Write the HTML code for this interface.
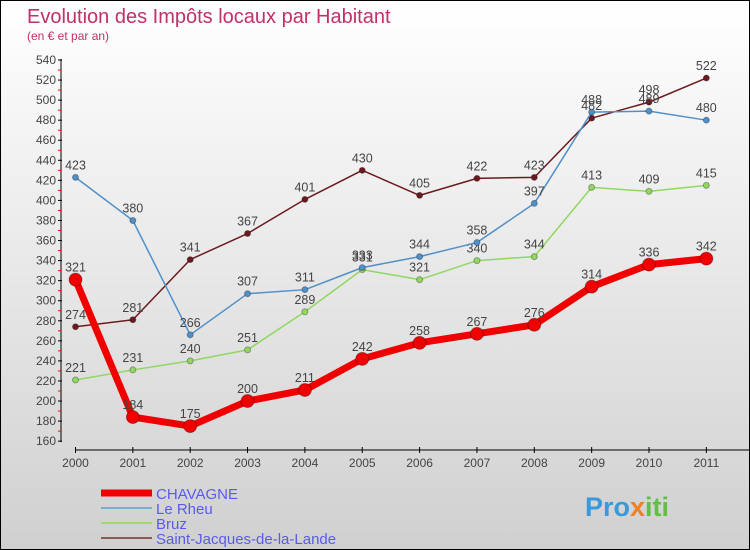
<!DOCTYPE html>
<html><head><meta charset="utf-8"><style>
body{margin:0}
#c{width:748px;height:548px;border:1px solid #000;background:linear-gradient(#fff,#d0d0d0);position:relative;font-family:"Liberation Sans",sans-serif}
</style></head><body>
<div id="c">
<svg id="s" width="748" height="548" style="position:absolute;left:0;top:0">
<text x="26" y="22" font-size="20" fill="#c0306a">Evolution des Impôts locaux par Habitant</text>
<text x="26" y="39" font-size="12" fill="#c0306a">(en € et par an)</text>
<g id="axes"></g><g id="series"></g><g id="legend"></g>
<text x="584" y="515" font-size="27" font-weight="bold" fill="#3a9ad9">Pro<tspan fill="#f08020">x</tspan><tspan fill="#60c040">iti</tspan></text>
</svg>
</div>
<script>
const years=[2000,2001,2002,2003,2004,2005,2006,2007,2008,2009,2010,2011];
const chavagne=[321,184,175,200,211,242,258,267,276,314,336,342];
const leRheu=[423,380,266,307,311,333,344,358,397,488,489,480];
const bruz=[221,231,240,251,289,331,321,340,344,413,409,415];
const stJacques=[274,281,341,367,401,430,405,422,423,482,498,522];
const yTicks=[160,180,200,220,240,260,280,300,320,340,360,380,400,420,440,460,480,500,520,540];
const NS="http://www.w3.org/2000/svg";
const X=i=>74.5+i*57.35, Y=v=>59+(540-v)*1.003;
function mk(tag,attrs,parent){const e=document.createElementNS(NS,tag);for(const k in attrs)e.setAttribute(k,attrs[k]);parent.appendChild(e);return e;}
const ax=document.getElementById('axes');
let a=mk('line',{x1:60,y1:Y(540)-1,x2:60,y2:Y(160)+1,stroke:'#000'},ax);


a=mk('line',{x1:X(0),y1:449,x2:748,y2:449,stroke:'#000'},ax);


yTicks.forEach(v=>{
 mk('line',{x1:57,x2:61,y1:Y(v),y2:Y(v),stroke:'#000'},ax);
 if(v<540)mk('line',{x1:57,x2:60,y1:Y(v+10),y2:Y(v+10),stroke:'#f00'},ax);
 const t=mk('text',{x:55,y:Y(v)+4,'font-size':12,'text-anchor':'end',fill:'#444'},ax);t.textContent=v;
 
 
});
years.forEach((y,i)=>{
 mk('line',{x1:X(i),x2:X(i),y1:446,y2:452,stroke:'#000'},ax);
 const t=mk('text',{x:X(i),y:466,'font-size':12,'text-anchor':'middle',fill:'#444'},ax);t.textContent=y;
 
 
});
const sg=document.getElementById('series');
function draw(data,color,w,r,name){
 const g=mk('g',{},sg);
 
 
 mk('polyline',{points:data.map((v,i)=>X(i)+','+Y(v)).join(' '),fill:'none',stroke:color,'stroke-width':w,'stroke-linejoin':'round'},g);
 data.forEach((v,i)=>{
  const c=mk('circle',{cx:X(i),cy:Y(v),r:r,fill:color,stroke:'rgba(0,0,0,0.3)'},g);
  
  
  const t=mk('text',{x:X(i),y:Y(v)-8,'font-size':12.5,'text-anchor':'middle',fill:'#444'},g);t.textContent=v;
  
  
 });
}
draw(stJacques,'#6b1a20',1.5,3,'saint-jacques');
draw(bruz,'#90d860',1.5,3,'bruz');
draw(leRheu,'#5090c8',1.5,3,'le-rheu');
draw(chavagne,'#f00000',7,6.5,'chavagne');
const lg=document.getElementById('legend');
[['CHAVAGNE','#f00000',7],['Le Rheu','#7aaed0',2],['Bruz','#9ed878',2],['Saint-Jacques-de-la-Lande','#8a5a5a',2]].forEach((d,i)=>{
 const yy=492+i*15;
 const g=mk('g',{},lg);
 
 
 mk('line',{x1:100,x2:151,y1:yy,y2:yy,stroke:d[1],'stroke-width':d[2]},g);
 const t=mk('text',{x:155,y:yy+6,'font-size':15,fill:'#5a5af0'},g);t.textContent=d[0];
});
</script>
</body></html>
